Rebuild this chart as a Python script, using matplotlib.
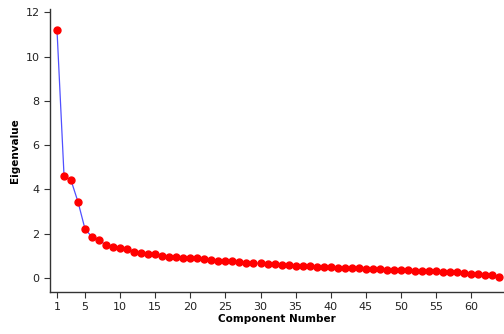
import numpy as np
import matplotlib.pyplot as plt

# scree plot of eigenvalues
component = list(range(1, 65))
eigenvalue = [11.18, 4.62, 4.41, 3.43, 2.20, 1.86, 1.73, 1.47, 1.40, 1.35,
              1.32, 1.19, 1.14, 1.08, 1.08, 1.01, 0.96, 0.96, 0.92, 0.89,
              0.89, 0.84, 0.81, 0.78, 0.77, 0.77, 0.72, 0.70, 0.67, 0.67,
              0.63, 0.63, 0.59, 0.59, 0.54, 0.54, 0.54, 0.50, 0.50, 0.50,
              0.47, 0.46, 0.46, 0.46, 0.42, 0.41, 0.41, 0.38, 0.38, 0.38,
              0.38, 0.33, 0.33, 0.33, 0.31, 0.29, 0.29, 0.26, 0.23, 0.20,
              0.18, 0.12, 0.12, 0.05]
xticks = [1, 5, 10, 15, 20, 25, 30, 35, 40, 45, 50, 55, 60]
yticks = [0, 2, 4, 6, 8, 10, 12]

fig = plt.figure(figsize=(5.04, 3.34), dpi=100)
ax = fig.add_axes([50 / 504, 42 / 334, 454 / 504, 283 / 334])

ax.plot(component, eigenvalue, color='#5050ff', lw=0.9, zorder=2)
ax.plot(component, eigenvalue, 'o', color='#ff0000', ms=5, mec='#ff0000', zorder=3)

ax.set_xlim(0.0, 64.7)
ax.set_ylim(-0.63, 12.15)
ax.set_xticks(xticks)
ax.set_yticks(yticks)
ax.tick_params(labelsize=8, length=4, width=0.8, color='#333333', labelcolor='#222222')
for s in ['top', 'right']:
    ax.spines[s].set_visible(False)
for s in ['left', 'bottom']:
    ax.spines[s].set_linewidth(1.0)
    ax.spines[s].set_color('#333333')

ax.set_xlabel('Component Number', fontsize=7.5, fontweight='bold', labelpad=1)
ax.set_ylabel('Eigenvalue', fontsize=7.5, fontweight='bold', labelpad=4)

fig.savefig('out.png', dpi=100)
